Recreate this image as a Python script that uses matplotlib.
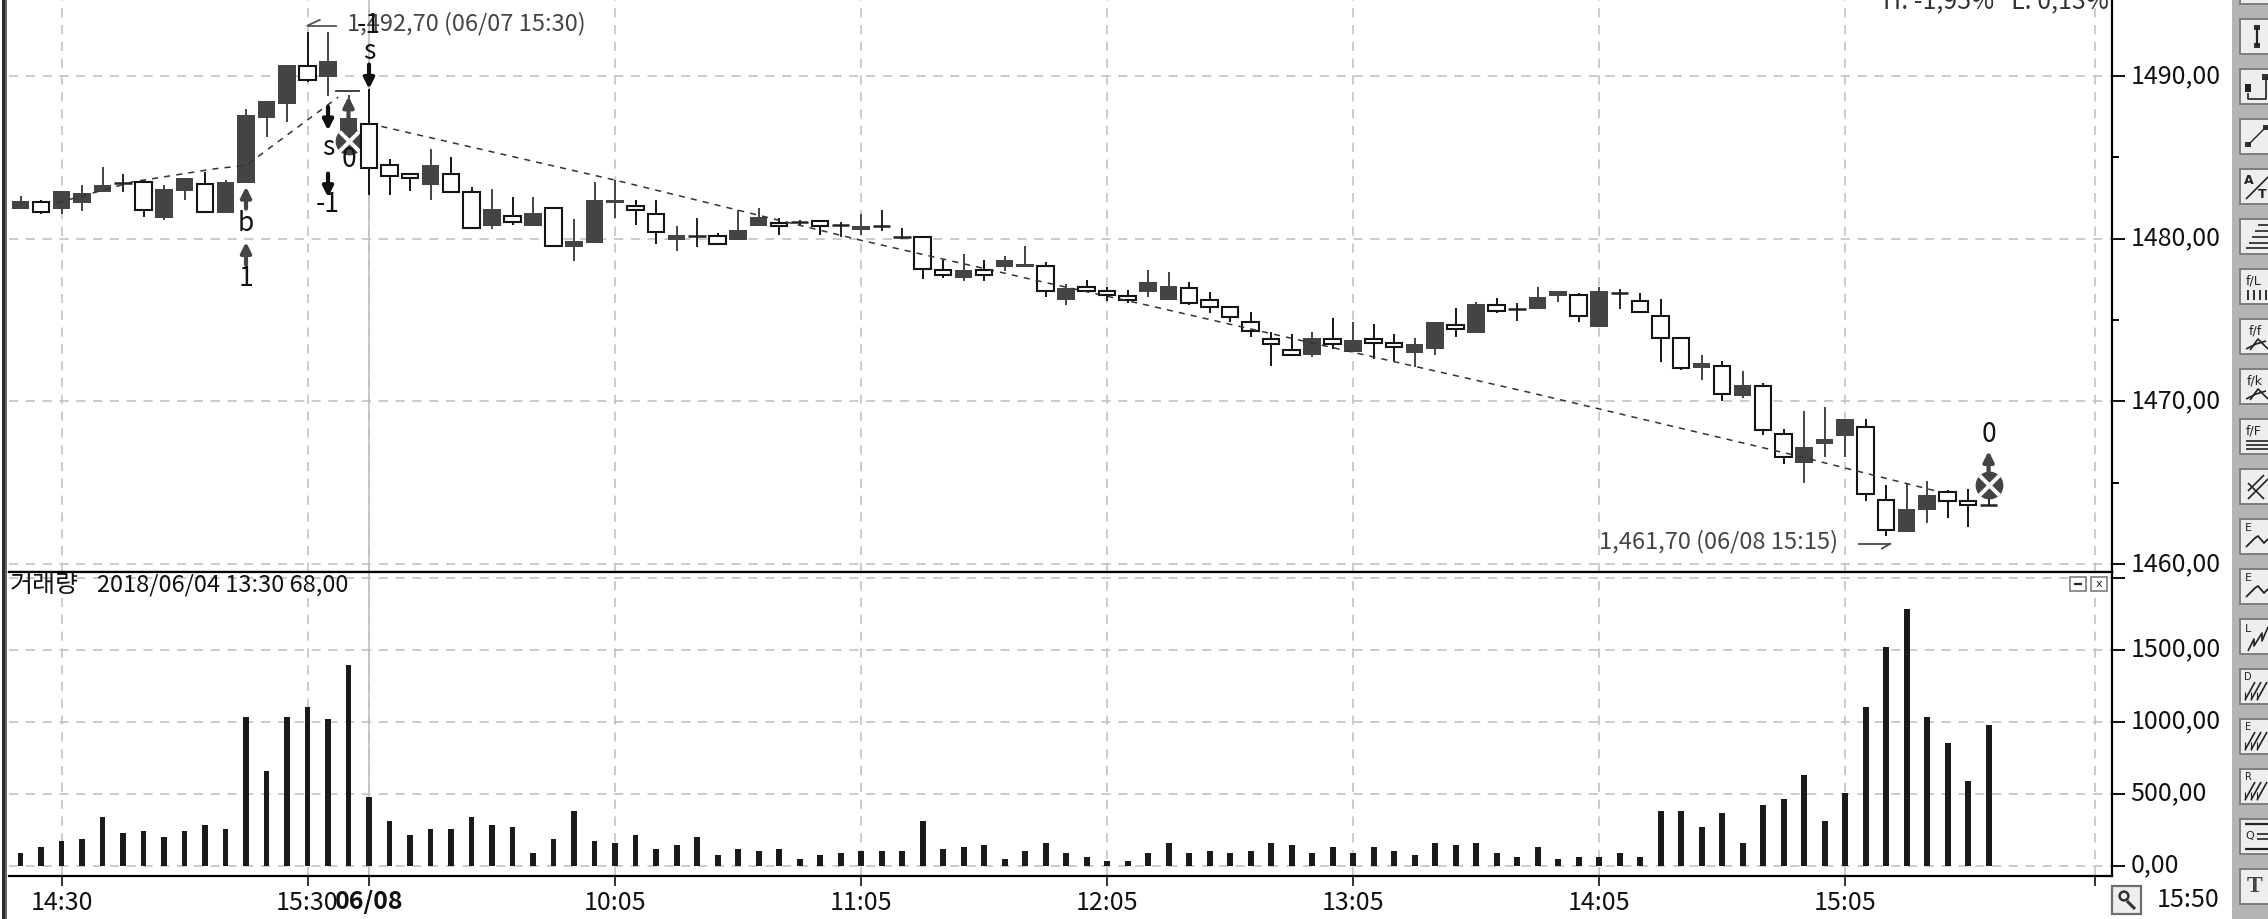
import matplotlib
matplotlib.use("Agg")
import matplotlib.pyplot as plt
from matplotlib.patches import Rectangle
from matplotlib.ticker import FixedLocator
from matplotlib.transforms import ScaledTranslation

# candles, index 0 = first 5 min bar on screen
opens = [1481.85, 1482.25, 1481.85, 1482.2, 1482.85, 1483.45, 1483.5, 1481.25, 1482.95, 1483.35,
         1481.6, 1483.45, 1487.4, 1488.25, 1490.6, 1489.95, 1485.85, 1487.05, 1484.5, 1484.0,
         1483.3, 1484.0, 1482.85, 1480.75, 1481.4, 1480.75, 1481.9, 1479.5, 1479.75, 1482.2,
         1482.0, 1481.5, 1479.9, 1480.15, 1480.15, 1479.9, 1480.75, 1480.98, 1481.0, 1481.1,
         1480.85, 1480.55, 1480.75, 1480.1, 1480.1, 1478.05, 1477.6, 1478.05, 1478.25, 1478.25,
         1478.3, 1476.25, 1477.05, 1476.8, 1476.45, 1476.75, 1476.25, 1476.95, 1476.2, 1475.8,
         1474.85, 1473.85, 1473.15, 1472.85, 1473.85, 1473.05, 1473.85, 1473.6, 1472.95, 1473.2,
         1474.7, 1474.2, 1475.95, 1475.65, 1475.7, 1476.45, 1476.55, 1474.6, 1476.65, 1476.15,
         1475.25, 1473.9, 1472.05, 1472.2, 1470.3, 1470.95, 1468.0, 1466.2, 1467.35, 1467.85,
         1468.4, 1463.95, 1461.95, 1463.3, 1464.45, 1463.85, 1463.6]
closes = [1482.3, 1481.65, 1482.9, 1482.8, 1483.3, 1483.45, 1481.75, 1483.05, 1483.75, 1481.65,
          1483.5, 1487.6, 1488.45, 1490.7, 1489.75, 1490.9, 1487.4, 1484.35, 1483.85, 1483.75,
          1484.5, 1482.85, 1480.65, 1481.8, 1481.0, 1481.55, 1479.55, 1479.85, 1482.4, 1482.4,
          1481.75, 1480.4, 1480.2, 1480.15, 1479.65, 1480.55, 1481.35, 1480.75, 1481.0, 1480.75,
          1480.85, 1480.8, 1480.75, 1480.1, 1478.15, 1477.75, 1478.05, 1477.75, 1478.7, 1478.45,
          1476.8, 1476.95, 1476.8, 1476.55, 1476.2, 1477.35, 1477.1, 1476.05, 1475.8, 1475.2,
          1474.35, 1473.5, 1472.85, 1473.9, 1473.5, 1473.75, 1473.6, 1473.35, 1473.5, 1474.9,
          1474.45, 1476.0, 1475.55, 1475.65, 1476.4, 1476.8, 1475.25, 1476.8, 1476.65, 1475.5,
          1473.9, 1472.05, 1472.35, 1470.45, 1471.0, 1468.25, 1466.55, 1467.2, 1467.7, 1468.9,
          1464.3, 1462.1, 1463.4, 1464.25, 1463.85, 1463.6, 1463.6]
highs = [1482.65, 1482.4, 1482.9, 1483.3, 1484.4, 1484.0, 1483.6, 1483.3, 1483.75, 1484.1,
         1483.6, 1487.95, 1488.45, 1490.7, 1492.7, 1492.7, 1488.8, 1489.2, 1484.9, 1484.0,
         1485.5, 1485.0, 1483.15, 1483.05, 1482.55, 1482.55, 1481.9, 1481.2, 1483.5, 1483.6,
         1482.4, 1482.4, 1480.8, 1481.3, 1480.35, 1481.75, 1481.9, 1481.25, 1481.15, 1481.1,
         1481.0, 1481.5, 1481.75, 1480.65, 1480.1, 1478.7, 1479.05, 1478.7, 1478.95, 1479.55,
         1478.55, 1477.2, 1477.45, 1477.0, 1476.85, 1478.05, 1477.95, 1477.35, 1476.7, 1475.8,
         1475.5, 1474.25, 1474.15, 1474.25, 1475.1, 1474.9, 1474.75, 1474.15, 1473.9, 1474.9,
         1475.75, 1476.1, 1476.35, 1476.05, 1477.05, 1476.8, 1476.65, 1477.05, 1476.9, 1476.65,
         1476.3, 1473.9, 1472.85, 1472.5, 1471.85, 1471.15, 1468.3, 1469.4, 1469.65, 1468.9,
         1468.9, 1464.85, 1464.95, 1465.1, 1464.55, 1464.6, 1465.0]
lows = [1481.85, 1481.5, 1481.5, 1481.7, 1482.85, 1482.85, 1481.35, 1481.15, 1482.35, 1481.65,
        1481.6, 1483.45, 1486.25, 1487.15, 1489.6, 1488.75, 1485.7, 1482.7, 1482.7, 1482.95,
        1482.35, 1482.85, 1480.65, 1480.6, 1480.85, 1480.75, 1479.55, 1478.65, 1479.75, 1481.3,
        1480.85, 1479.65, 1479.25, 1479.5, 1479.65, 1479.9, 1480.75, 1480.2, 1480.75, 1480.2,
        1480.1, 1480.2, 1480.45, 1479.95, 1477.5, 1477.6, 1477.4, 1477.4, 1478.0, 1478.25,
        1476.4, 1475.9, 1476.8, 1476.15, 1476.05, 1476.4, 1476.25, 1475.9, 1475.4, 1474.9,
        1473.95, 1472.2, 1472.85, 1472.7, 1473.2, 1473.05, 1472.6, 1472.45, 1472.1, 1472.85,
        1473.95, 1474.2, 1475.4, 1474.95, 1475.7, 1476.1, 1474.85, 1474.6, 1475.7, 1475.5,
        1472.4, 1471.9, 1471.3, 1470.05, 1470.2, 1467.95, 1466.15, 1465.0, 1466.6, 1466.55,
        1463.9, 1461.7, 1461.95, 1462.55, 1462.8, 1462.3, 1463.6]
volumes = [86, 127, 169, 183, 336, 225, 238, 197, 238, 280, 252, 1030, 655, 1030, 1100, 1016, 1391,
           475, 308, 211, 252, 252, 336, 280, 266, 86, 183, 377, 169, 155, 211, 113, 141, 197, 72,
           113, 102, 116, 46, 74, 88, 102, 102, 102, 310, 116, 130, 144, 46, 102, 157, 88, 60, 32,
           32, 88, 157, 88, 102, 88, 102, 157, 144, 88, 130, 88, 130, 102, 74, 157, 144, 157, 88,
           58, 127, 44, 58, 58, 86, 58, 377, 377, 266, 363, 155, 419, 461, 627, 308, 502, 1100,
           1516, 1780, 1030, 850, 586, 975]

# dashed trade lines
line_up_x = [1.8, 5.5, 9.5, 11.0, 15.5]
line_up_y = [1482.2, 1483.5, 1484.3, 1484.5, 1488.7]
line_down_x = [17.6, 29, 35, 41, 50, 55, 60, 64.7, 73.6, 86.5, 93.4]
line_down_y = [1486.9, 1483.6, 1481.75, 1479.9, 1477.3, 1475.9, 1474.45, 1473.1, 1470.55, 1466.7, 1464.5]

x_ticks = [2, 14, 17, 29, 41, 53, 65, 77, 89, 101.2]
x_labels = ["14:30", "15:30", "06/08", "10:05", "11:05", "12:05", "13:05", "14:05", "15:05", ""]
price_ticks = [1460, 1470, 1480, 1490]
price_minor = [1465, 1475, 1485]
price_labels = ["1460,00", "1470,00", "1480,00", "1490,00"]
vol_ticks = [0, 500, 1000, 1500, 2000]
vol_labels = ["0,00", "500,00", "1000,00", "1500,00", ""]

# signal arrows: x, tail, tip, colour
signal_arrows = [(11, 1481.85, 1483.2, "#444444"), (11, 1478.4, 1479.8, "#444444"),
                 (15, 1488.1, 1486.65, "#111111"), (15, 1484.0, 1482.55, "#111111"),
                 (16, 1487.4, 1488.75, "#444444"), (17, 1490.7, 1489.2, "#111111"),
                 (96, 1465.6, 1466.95, "#444444")]
signal_texts = [(11, 1480.94, "b"), (11, 1477.56, "1"), (15, 1485.6, "s"), (15, 1482.13, "-1"),
                (16, 1484.88, "0"), (17, 1491.5, "s"), (17, 1493.13, "-1"), (96, 1467.95, "0")]
exit_marks_x = [16, 96]
exit_marks_y = [1486.0, 1464.85]

CANDLE_DARK = "#444444"
LINE_BLACK = "#141414"
GRID = "#bdbdbd"
W, H = 2268, 919
LEFT, RIGHT, SPLIT, BOTTOM = 9, 2112, 572, 875.7
NARROW = ["Noto Sans CJK KR", "DejaVu Sans"]
FS = 18

plt.rcParams["font.family"] = NARROW
fig = plt.figure(figsize=(W / 100, H / 100), dpi=100, facecolor="white")


def axes_px(x0, y0, x1, y1):
    return fig.add_axes([x0 / W, 1 - y1 / H, (x1 - x0) / W, (y1 - y0) / H])


ax = axes_px(LEFT, 0, RIGHT, SPLIT)
vax = axes_px(LEFT, SPLIT, RIGHT, BOTTOM)

x_min, x_max = -0.561, 102.02
for a in (ax, vax):
    a.set_xlim(x_min, x_max)
    for s in ("top", "left"):
        a.spines[s].set_visible(False)
    for s in ("right", "bottom"):
        a.spines[s].set_linewidth(1.6)
        a.spines[s].set_color("black")
    a.yaxis.tick_right()
    a.grid(True, color=GRID, lw=1.1, ls=(0, (6, 5)), zorder=0)
    a.set_axisbelow(True)
    a.xaxis.set_major_locator(FixedLocator(x_ticks))

ax.set_ylim(1459.51, 1494.67)
vax.set_ylim(-69.4, 2039.6)
vax.spines["top"].set_visible(True)
vax.spines["top"].set_linewidth(1.6)

ax.set_yticks(price_ticks)
ax.set_yticklabels(price_labels)
ax.yaxis.set_minor_locator(FixedLocator(price_minor))
ax.tick_params(axis="y", which="major", length=9, width=1.4, pad=4.5, labelsize=FS, colors="#111111")
ax.tick_params(axis="y", which="minor", length=5, width=1.4)
ax.tick_params(axis="x", length=0, labelbottom=False)

vax.set_yticks(vol_ticks)
vax.set_yticklabels(vol_labels)
vax.tick_params(axis="y", length=9, width=1.4, pad=4.5, labelsize=FS, colors="#111111")
vax.set_xticklabels(x_labels)
vax.tick_params(axis="x", length=7, width=1.2, pad=3, labelsize=FS, colors="#111111")
vax.get_xticklabels()[2].set_fontweight("bold")

# the CJK font sits a little low, lift the value labels
lift = ScaledTranslation(0, 3 / 100, fig.dpi_scale_trans)
for lab in ax.get_yticklabels() + vax.get_yticklabels():
    lab.set_transform(lab.get_transform() + lift)

# solid day separator
for a in (ax, vax):
    a.axvline(17, color="#c0c0c0", lw=1.2, zorder=1)

# candles
for i, (o, h, l, c) in enumerate(zip(opens, highs, lows, closes)):
    z = 5 if i == 17 else 3
    top, bot = max(o, c), min(o, c)
    if o == c:
        ax.vlines(i, l, h, color="#222222", lw=1.4, zorder=z)
        ax.hlines(o, i - 0.43, i + 0.43, color="#222222", lw=1.8, zorder=z)
    elif c > o:
        ax.vlines(i, l, h, color=CANDLE_DARK, lw=1.4, zorder=z)
        ax.bar(i, top - bot, bottom=bot, width=0.86, color=CANDLE_DARK, lw=0, zorder=z)
    else:
        ax.vlines(i, l, h, color=LINE_BLACK, lw=1.4, zorder=z)
        ax.bar(i, top - bot, bottom=bot, width=0.8, facecolor="white",
               edgecolor=LINE_BLACK, lw=1.5, zorder=z)

# trend lines go over the candles
ax.plot(line_up_x, line_up_y, color="#333333", lw=1.1, ls=(0, (4, 4)), zorder=6)
ax.plot(line_down_x, line_down_y, color="#333333", lw=1.1, ls=(0, (4, 4)), zorder=6)

# exit marks
ax.scatter(exit_marks_x, exit_marks_y, s=400, color="#444444", lw=0, zorder=4)
ax.scatter(exit_marks_x, exit_marks_y, s=200, marker="x", color="white", lw=2.8, zorder=4.5)

for x, tail, tip, col in signal_arrows:
    ax.annotate("", xy=(x, tip), xytext=(x, tail), zorder=7,
                arrowprops=dict(arrowstyle="-|>", color=col, lw=3.0, mutation_scale=15,
                                shrinkA=0, shrinkB=0))
for x, y, s in signal_texts:
    ax.text(x, y, s, ha="center", va="center", fontsize=FS + 1, color="#111111", zorder=8)

# high / low notes
ax.plot([14, 15.4], [1493.1, 1493.1], color="#555555", lw=1.3)
ax.plot([14, 14.6], [1493.1, 1493.45], color="#555555", lw=1.3)
ax.plot([15.4, 16.5], [1489.05, 1489.05], color="#333333", lw=1.3, zorder=6)
ax.plot([89.7, 91.2], [1461.25, 1461.25], color="#444444", lw=1.3)
ax.plot([91.2, 90.8], [1461.25, 1460.95], color="#444444", lw=1.3)
ax.text(15.95, 1493.25, "1,492,70 (06/07 15:30)", ha="left", va="center", fontsize=17, color="#444444", zorder=2)
ax.text(77, 1461.4, "1,461,70 (06/08 15:15)", ha="left", va="center", fontsize=17, color="#444444")
ax.text(0.9985, 1.0 - 8 / SPLIT, "H: -1,95%   L: 0,13%", transform=ax.transAxes, ha="right", va="baseline",
        fontsize=FS, color="#333333", clip_on=False)

# volume
vax.bar(range(len(volumes)), volumes, width=0.29, color="#1a1a1a", lw=0, zorder=3)

# window furniture, in screen pixels
ui = fig.add_axes([0, 0, 1, 1], facecolor="none")
ui.set_xlim(0, W)
ui.set_ylim(H, 0)
ui.axis("off")
ui.add_patch(Rectangle((2, 0), 4, H, color="#2a2a2a", lw=0))
ui.add_patch(Rectangle((5, 0), 1.5, H, color="#666666", lw=0))
ui.add_patch(Rectangle((2232, 0), 36, H, color="#b4b4b4", lw=0))

ui.text(10, 585, "거래량", fontsize=18, ha="left", va="center", color="#111111",
        family=["Noto Sans CJK KR", "DejaVu Sans"])
ui.text(97, 585, "2018/06/04 13:30 68,00", fontsize=17, ha="left", va="center", color="#111111")
ui.text(2188, 900, "15:50", fontsize=FS, ha="center", va="center", color="#111111")


def button(x, y, w, h):
    ui.add_patch(Rectangle((x, y), w, h, facecolor="#eeeeee", edgecolor="#7d7d7d", lw=1.4))


def seg(x, y, pts, lw=1.2, col="#222222"):
    ui.plot([x + p[0] for p in pts], [y + p[1] for p in pts], color=col, lw=lw, solid_capstyle="butt")


def label(x, y, s, size=9, weight="normal"):
    ui.text(x, y, s, fontsize=size, ha="center", va="center", color="#222222", fontweight=weight,
            family="DejaVu Sans")


def hatch(x, y, n=3):
    for k in range(n):
        seg(x, y, [(5 + 6 * k, 31), (15 + 6 * k, 13)])
        seg(x, y, [(5 + 6 * k, 23), (5 + 6 * k, 31)], lw=0.8)


button(2240, -30, 40, 34)
tool_tops = [19, 69, 119, 169, 219, 269, 319, 369, 419, 469, 519, 569, 619, 669, 719, 769, 819, 869]
for n, t in enumerate(tool_tops):
    button(2240, t, 40, 35)
    x = 2240
    if n == 0:
        seg(x, t, [(17, 8), (17, 27)], lw=1.6)
        ui.add_patch(Rectangle((x + 14, t + 6), 6, 5, color="#333333", lw=0))
        ui.add_patch(Rectangle((x + 14, t + 24), 6, 5, color="#333333", lw=0))
    elif n == 1:
        seg(x, t, [(8, 24), (8, 30), (26, 30), (26, 8)], lw=1.2)
        ui.add_patch(Rectangle((x + 5, t + 15), 6, 8, color="#222222", lw=0))
        ui.add_patch(Rectangle((x + 22, t + 5), 6, 6, color="#333333", lw=0))
    elif n == 2:
        seg(x, t, [(8, 26), (26, 8)], lw=1.0)
        ui.add_patch(Rectangle((x + 5, t + 23), 6, 5, color="#333333", lw=0))
        ui.add_patch(Rectangle((x + 23, t + 6), 5, 5, color="#333333", lw=0))
    elif n == 3:
        label(x + 9, t + 11, "A", 9, "bold")
        label(x + 22, t + 25, "T", 9, "bold")
        seg(x, t, [(6, 30), (28, 8)])
    elif n == 4:
        for k, dy in enumerate((6, 12, 18, 24, 29)):
            seg(x, t, [(6 + 12 - 3 * k if k < 4 else 6, dy), (28, dy)], lw=1.2)
    elif n == 5:
        label(x + 14, t + 12, "f/L", 9)
        for k in range(4):
            seg(x, t, [(8 + 6 * k, 21), (8 + 6 * k, 31)], lw=1.3)
    elif n in (6, 7):
        label(x + 15, t + 12, "f/f" if n == 6 else "f/k", 9)
        seg(x, t, [(6, 30), (16, 25), (26, 22)])
        seg(x, t, [(10, 31), (18, 20), (28, 30)])
    elif n == 8:
        label(x + 14, t + 12, "f/F", 9)
        for dy in (22, 26, 30):
            seg(x, t, [(6, dy), (28, dy)])
    elif n == 9:
        seg(x, t, [(8, 22), (24, 6)])
        seg(x, t, [(8, 30), (28, 10)])
        seg(x, t, [(8, 14), (24, 30)])
    elif n in (10, 11):
        label(x + 8, t + 9, "E", 8)
        seg(x, t, [(6, 28), (15, 19), (18, 17), (24, 24), (28, 20)], lw=1.3)
    elif n == 12:
        label(x + 8, t + 10, "L", 8)
        seg(x, t, [(8, 32), (14, 20), (14, 27), (22, 14), (22, 22), (28, 8)], lw=1.2)
    elif n in (13, 14, 15):
        label(x + 8, t + 8, "DER"[n - 13], 7)
        hatch(x, t)
    elif n == 16:
        seg(x, t, [(5, 5), (28, 5)], lw=1.6)
        seg(x, t, [(5, 30), (28, 30)], lw=1.6)
        label(x + 10, t + 17, "Q", 8)
        seg(x, t, [(17, 15), (28, 15)])
        seg(x, t, [(17, 20), (28, 20)])
    else:
        ui.text(x + 15, t + 17, "T", fontsize=17, ha="center", va="center", color="#444444",
                fontweight="bold", family="Liberation Serif")

# panel minimise / close boxes
ui.add_patch(Rectangle((2070, 577), 16, 14, facecolor="white", edgecolor="#7d7d7d", lw=1.2))
ui.add_patch(Rectangle((2091, 577), 16, 14, facecolor="white", edgecolor="#7d7d7d", lw=1.2))
seg(2070, 577, [(4, 7), (12, 7)], lw=1.6)
label(2099, 584, "x", 8)

# magnifier button
ui.add_patch(Rectangle((2112, 886), 29, 28, facecolor="#eeeeee", edgecolor="#6d6d6d", lw=1.6))
ui.scatter([2124], [896], s=40, facecolor="none", edgecolor="#333333", lw=1.8)
seg(2124, 896, [(3, 5), (11, 13)], lw=2.2, col="#333333")

fig.savefig("out.png", dpi=100)
